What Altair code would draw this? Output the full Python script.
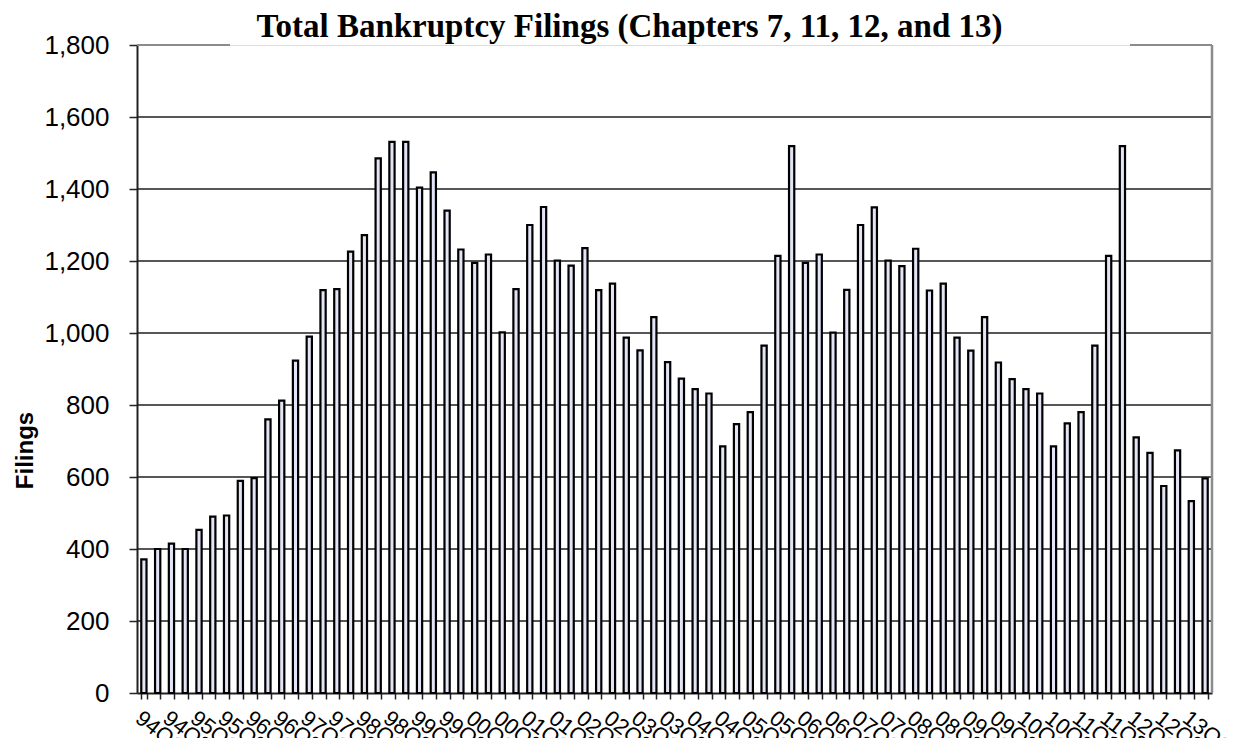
import altair as alt
import pandas as pd

# ---- data ----
years = ["94", "95", "96", "97", "98", "99", "00", "01", "02", "03",
         "04", "05", "06", "07", "08", "09", "10", "11", "12", "13"]
quarters = [f"{y}Q{q}" for y in years for q in (1, 2, 3, 4)][:78]

filings = [
    371, 400, 415, 400, 453, 490, 493, 589, 597, 760,
    812, 923, 990, 1119, 1122, 1226, 1272, 1485, 1531, 1531,
    1404, 1446, 1340, 1232, 1195, 1218, 1002, 1122, 1300, 1350,
    1201, 1187, 1236, 1119, 1137, 987, 952, 1044, 919, 873,
    844, 832, 685, 747, 780, 965, 1214, 1519, 1195, 1218,
    1001, 1120, 1300, 1349, 1201, 1186, 1234, 1118, 1137, 987,
    951, 1044, 918, 872, 844, 832, 685, 749, 780, 965,
    1214, 1519, 710, 667, 575, 674, 533, 596,
]

y_ticks = [0, 200, 400, 600, 800, 1000, 1200, 1400, 1600, 1800]
grid_values = [200, 400, 600, 800, 1000, 1200, 1400, 1600]
top_value = [1800]

title_text = "Total Bankruptcy Filings (Chapters 7, 11, 12, and 13)"

df = pd.DataFrame({"quarter": quarters, "Filings": filings})
grid_df = pd.DataFrame({"Filings": grid_values})
top_df = pd.DataFrame({"Filings": top_value})

W, H = 1075, 648
y_scale = alt.Scale(domain=[0, 1800], nice=False, zero=True)

x_enc = alt.X(
    "quarter:N", sort=None, title=None,
    scale=alt.Scale(paddingInner=0.62, paddingOuter=0.31),
    axis=alt.Axis(
        labelExpr="(substring(datum.label, 3) == '1' || substring(datum.label, 3) == '3') ? datum.label : ''",
        labelAngle=38, labelAlign="left", labelBaseline="top", labelPadding=8,
        labelFontSize=22, labelFont="Liberation Sans", labelColor="black",
        labelOverlap=False, labelBound=False, labelFlush=False,
        tickBand="extent", tickSize=6, tickColor="#222222", tickWidth=1.5,
        domainColor="#222222", domainWidth=2, grid=False,
    ),
)

y_axis = alt.Axis(
    values=y_ticks, format=",.0f", grid=False,
    labelFontSize=26, labelFont="Liberation Sans", labelColor="black",
    labelPadding=20, tickSize=8, tickColor="#222222", tickWidth=1.5,
    domainColor="#222222", domainWidth=2,
    title="Filings", titleFont="Liberation Sans", titleFontSize=24,
    titleFontWeight="bold", titleColor="black", titleAngle=270,
    titleX=-112, titleY=405, titleAlign="center", titleBaseline="middle",
)

y_enc = alt.Y("Filings:Q", scale=y_scale, axis=y_axis)

grid = alt.Chart(grid_df).mark_rule(color="#1e1e1e", strokeWidth=1.6).encode(
    y=y_enc
)

bars = alt.Chart(df).mark_bar(
    fill="#e3e5f7", stroke="black", strokeWidth=2.2
).encode(
    x=x_enc,
    y=y_enc,
)

top_left = alt.Chart(top_df).mark_rule(color="#8c8c8c", strokeWidth=2).encode(
    y=y_enc,
    x=alt.value(0), x2=alt.value(93),
)
top_right = alt.Chart(top_df).mark_rule(color="#8c8c8c", strokeWidth=2).encode(
    y=y_enc,
    x=alt.value(993), x2=alt.value(W),
)
right_border = alt.Chart(top_df).mark_rule(color="#8c8c8c", strokeWidth=2.5).encode(
    x=alt.value(W), y=alt.value(0), y2=alt.value(H),
)

chart = alt.layer(grid, bars, top_left, top_right, right_border).properties(
    width=W, height=H,
    autosize=alt.AutoSizeParams(type="none"),
    padding={"left": 129, "top": 37, "right": 21, "bottom": 45},
    title=alt.TitleParams(
        text=title_text, font="Liberation Serif", fontSize=33,
        fontWeight="bold", color="black", anchor="middle", dx=-45,
        baseline="alphabetic", offset=0, dy=38,
    ),
).configure_view(stroke=None).configure(background="white")

chart.save("out.html", embed_options={"renderer": "svg", "actions": False})
